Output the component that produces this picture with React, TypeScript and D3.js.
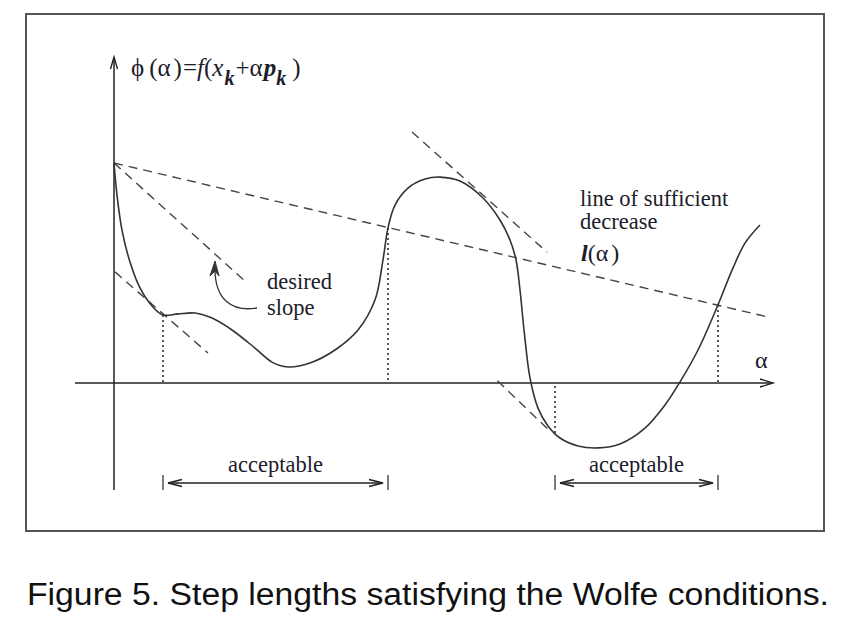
import React from "react";
import * as d3 from "d3";

// ---- data (alpha, phi) in chart units ----
const curveAlpha = [0, 0.046, 0.123, 0.246, 0.4, 0.585, 0.754, 0.985, 1.246, 1.508, 1.815, 2.169, 2.43, 2.677, 3.015, 3.4, 3.754, 4.015, 4.138, 4.215, 4.323, 4.523, 4.785, 5.015, 5.323, 5.677, 5.938, 6.092, 6.185, 6.246, 6.308, 6.4, 6.523, 6.677, 6.862, 7.138, 7.446, 7.785, 8.169, 8.477, 8.708, 8.985, 9.292, 9.523, 9.708, 9.938];
const curvePhi = [10, 8.55, 6.95, 5.5, 4.32, 3.5, 3.09, 3.14, 3.18, 2.95, 2.41, 1.59, 0.95, 0.73, 0.91, 1.5, 2.41, 3.77, 5.59, 7.05, 8.09, 8.86, 9.27, 9.36, 9.18, 8.41, 7.41, 6.5, 5.59, 4.23, 2.41, 0.23, -1.14, -1.95, -2.5, -2.86, -2.95, -2.77, -2.05, -1.0, 0.05, 1.5, 3.55, 5.23, 6.36, 7.18];

// dashed lines: [alpha0, phi0, alpha1, phi1]
const sufficientDecrease = [0, 10, 10.06, 3];
const desiredSlope = [0, 10, 2.046, 4.55];
const tangentLines = [
  [0.015, 5.05, 1.446, 1.36],
  [4.585, 11.41, 6.662, 5.95],
  [5.9, 0.1, 6.69, -2.14],
];

// dotted drop lines: alpha, phi on curve
const dropAlpha = [0.754, 4.215, 6.785, 9.292];
const dropPhi = [3.09, 7.05, -2.27, 3.55];

// acceptable intervals
const acceptStart = [0.754, 6.785];
const acceptEnd = [4.215, 9.292];
const acceptLabels = ["acceptable", "acceptable"];

const caption = "Figure 5. Step lengths satisfying the Wolfe conditions.";

export default function App() {
  const W = 849, H = 622;
  const x = d3.scaleLinear().domain([0, 10]).range([114, 764]);
  const y = d3.scaleLinear().domain([0, 10]).range([383, 163]);

  const pts: [number, number][] = curveAlpha.map((a, i) => [a, curvePhi[i]]);
  const line = d3
    .line<[number, number]>()
    .x((d) => x(d[0]))
    .y((d) => y(d[1]))
    .curve(d3.curveCatmullRom.alpha(0.5));

  const seg = (s: number[], key: string, dash: string, color = "#444", w = 1.4) => (
    <line
      key={key}
      x1={x(s[0])}
      y1={y(s[1])}
      x2={x(s[2])}
      y2={y(s[3])}
      stroke={color}
      strokeWidth={w}
      strokeDasharray={dash}
    />
  );

  const serif = "'Liberation Serif', 'DejaVu Serif', serif";
  const textColor = "#1c1c2a";
  const fs = 22.5;

  const axisY0 = y(0);
  const axisX0 = x(0);

  const arrowHead = (tx: number, ty: number, dir: "l" | "r" | "u", key: string, len = 13, half = 4) => {
    let d = "";
    if (dir === "r") d = `M${tx - len},${ty - half} L${tx},${ty} L${tx - len},${ty + half}`;
    if (dir === "l") d = `M${tx + len},${ty - half} L${tx},${ty} L${tx + len},${ty + half}`;
    if (dir === "u") d = `M${tx - half},${ty + len} L${tx},${ty} L${tx + half},${ty + len}`;
    return <path key={key} d={d} fill="none" stroke="#222" strokeWidth={1.4} />;
  };

  const arrowY = 483;

  return (
    <svg
      width={W}
      height={H}
      style={{ position: "absolute", left: 0, top: 0, background: "#fff" }}
    >
      <rect x={0} y={0} width={W} height={H} fill="#fff" />
      {/* frame */}
      <rect x={26} y={14} width={798} height={517} fill="none" stroke="#555" strokeWidth={2} />

      {/* axes */}
      <line x1={75} y1={axisY0} x2={772} y2={axisY0} stroke="#222" strokeWidth={1.5} />
      {arrowHead(773, axisY0, "r", "ax")}
      <line x1={axisX0} y1={490} x2={axisX0} y2={58} stroke="#222" strokeWidth={1.5} />
      {arrowHead(axisX0, 57, "u", "ay", 12, 3.5)}

      {/* dashed lines */}
      {seg(sufficientDecrease, "suff", "9,6")}
      {seg(desiredSlope, "des", "9,6")}
      {tangentLines.map((t, i) => seg(t, "t" + i, "9,6"))}

      {/* dotted drop lines */}
      {dropAlpha.map((a, i) => (
        <line
          key={"dr" + i}
          x1={x(a)}
          y1={y(dropPhi[i])}
          x2={x(a)}
          y2={axisY0}
          stroke="#222"
          strokeWidth={1.5}
          strokeDasharray="2,3"
        />
      ))}

      {/* function curve */}
      <path d={line(pts) || ""} fill="none" stroke="#333" strokeWidth={1.6} />

      {/* desired slope curved arrow */}
      <path d={`M257,308 C232,312 214,300 215,266`} fill="none" stroke="#333" strokeWidth={1.3} />
      <path d="M210,276 L215,261 L219,276 L215,271 Z" fill="#333" stroke="#333" strokeWidth={1} />

      {/* acceptable intervals */}
      {acceptStart.map((a, i) => {
        const x0 = x(a), x1 = x(acceptEnd[i]);
        return (
          <g key={"acc" + i}>
            <line x1={x0} y1={arrowY - 8} x2={x0} y2={arrowY + 7} stroke="#444" strokeWidth={1.4} />
            <line x1={x1} y1={arrowY - 8} x2={x1} y2={arrowY + 7} stroke="#444" strokeWidth={1.4} />
            <line x1={x0 + 5} y1={arrowY} x2={x1 - 5} y2={arrowY} stroke="#222" strokeWidth={1.5} />
            {arrowHead(x0 + 5, arrowY, "l", "al" + i, 14, 3.5)}
            {arrowHead(x1 - 5, arrowY, "r", "ar" + i, 14, 3.5)}
            <text
              x={(x0 + x1) / 2}
              y={arrowY - 11}
              textAnchor="middle"
              fontFamily={serif}
              fontSize={fs}
              fill={textColor}
            >
              {acceptLabels[i]}
            </text>
          </g>
        );
      })}

      {/* labels */}
      <text x={131} y={76} fontFamily={serif} fontSize={25} fill={textColor}>
        <tspan>ϕ</tspan>
        <tspan dx={5}>(α</tspan>
        <tspan dx={3}>)</tspan>
        <tspan dx={1}>=</tspan>
        <tspan fontStyle="italic">f</tspan>
        <tspan>(</tspan>
        <tspan fontStyle="italic">x</tspan>
        <tspan fontStyle="italic" fontWeight="bold" fontSize={20} dy={9} dx={1}>k</tspan>
        <tspan dy={-9} dx={1}>+α</tspan>
        <tspan fontStyle="italic" fontWeight="bold" dx={1}>p</tspan>
        <tspan fontStyle="italic" fontWeight="bold" fontSize={20} dy={9}>k</tspan>
        <tspan dy={-9} dx={6}>)</tspan>
      </text>

      <text x={267} y={289} fontFamily={serif} fontSize={fs} fill={textColor}>desired</text>
      <text x={267} y={315} fontFamily={serif} fontSize={fs} fill={textColor}>slope</text>

      <text x={580} y={206} fontFamily={serif} fontSize={fs} fill={textColor}>line of sufficient</text>
      <text x={580} y={229} fontFamily={serif} fontSize={fs} fill={textColor}>decrease</text>
      <text x={581} y={261} fontFamily={serif} fontSize={24} fill={textColor}>
        <tspan fontStyle="italic" fontWeight="bold">l</tspan>
        <tspan>(α</tspan>
        <tspan dx={3}>)</tspan>
      </text>

      <text x={755} y={368} fontFamily={serif} fontSize={24} fill={textColor}>α</text>

      <text
        x={27}
        y={605}
        fontFamily="'Liberation Sans', Arial, sans-serif"
        fontSize={31}
        textLength={802}
        lengthAdjust="spacingAndGlyphs"
        fill="#111"
      >
        {caption}
      </text>
    </svg>
  );
}
